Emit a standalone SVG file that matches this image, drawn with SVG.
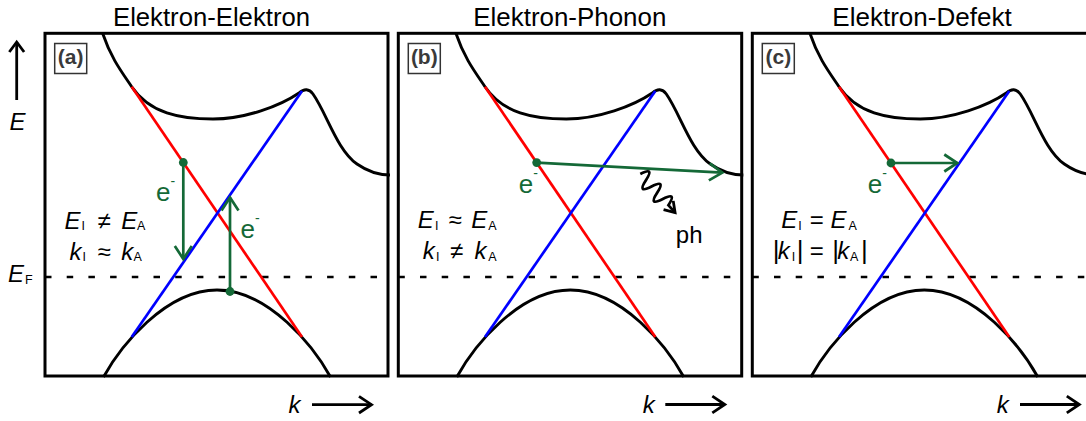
<svg xmlns="http://www.w3.org/2000/svg" xmlns:xlink="http://www.w3.org/1999/xlink" width="1086" height="421" viewBox="0 0 1086 421">
<style>
text{font-family:"Liberation Sans",Arial,sans-serif;fill:#000}
.box{fill:none;stroke:#000;stroke-width:3}
.band{fill:none;stroke:#000;stroke-width:2.9}
.red{fill:none;stroke:#f00;stroke-width:2.7}
.blue{fill:none;stroke:#00f;stroke-width:2.7}
.ef{fill:none;stroke:#000;stroke-width:2.7;stroke-dasharray:6.5 15.2}
.g{fill:none;stroke:#146937;stroke-width:2.7}
.dot{fill:#146937}
.title{font-size:25px}
.it{font-style:italic}
.f{font-size:24px}
.sub{font-size:12.5px;font-style:normal}
.bar{font-size:26px}
.lblbox{fill:#fff;stroke:#333;stroke-width:1.5}
.lbl{font-size:21px;font-weight:bold;fill:#3a3a3a}
.el{font-size:26px;fill:#146937}
.sup{font-size:14px}
.ax{fill:none;stroke:#000;stroke-width:2.8}
.wv{fill:none;stroke:#000;stroke-width:2.8}
</style>
<defs>
<marker id="ahB" markerUnits="userSpaceOnUse" orient="auto" overflow="visible" markerWidth="1" markerHeight="1" refX="0" refY="0"><path d="M-10,-7.4 L0,0 L-10,7.4" fill="none" stroke="#000" stroke-width="2.8"/></marker>
<marker id="ahK" markerUnits="userSpaceOnUse" orient="auto" overflow="visible" markerWidth="1" markerHeight="1" refX="0" refY="0"><path d="M-12.5,-8.3 L0,0 L-12.5,8.3" fill="none" stroke="#000" stroke-width="2.8"/></marker>
<marker id="ahG" markerUnits="userSpaceOnUse" orient="auto" overflow="visible" markerWidth="1" markerHeight="1" refX="0" refY="0"><path d="M-13,-8.5 L0,0 L-13,8.5" fill="none" stroke="#146937" stroke-width="2.7"/></marker>
<marker id="ahW" markerUnits="userSpaceOnUse" orient="auto" overflow="visible" markerWidth="1" markerHeight="1" refX="0" refY="0"><path d="M-10,-6.5 L0,0 L-10,6.5" fill="none" stroke="#000" stroke-width="2.8"/></marker>
<g id="bandset">
<line class="ef" x1="0" y1="277" x2="343" y2="277"/>
<path class="band" d="M57.5,33 C66,58 76,71 86.7,86.7 C105,113.5 135,119 168,119 C200,119 235,106 254,93 Q262,86 268,94 C282,114 292,150 312,164 C322,171 332,175 345,175"/>
<path class="band" d="M58.5,377 C75,347 120,290 172,290 C224,290 269,347 285.5,377"/>
<line class="red" x1="86.7" y1="86.7" x2="257" y2="337"/>
<line class="blue" x1="257" y1="91" x2="86.7" y2="337"/>
</g>
</defs>

<g id="axis-E">
<line class="ax" x1="16.7" y1="100" x2="16.7" y2="42" marker-end="url(#ahB)"/>
<text class="f it" x="9.5" y="129.5">E</text>
<text class="f it" x="8" y="282">E<tspan class="sub" x="25" y="284">F</tspan></text>
</g>

<g id="panel-a" transform="translate(45,0)">
<text class="title" x="68" y="26" textLength="197" lengthAdjust="spacingAndGlyphs">Elektron-Elektron</text>
<use xlink:href="#bandset" href="#bandset"/>
<g id="transitions-a">
<line class="g" x1="138.3" y1="162.5" x2="138.3" y2="259" marker-end="url(#ahG)"/>
<line class="g" x1="185" y1="291.5" x2="185" y2="197.5" marker-end="url(#ahG)"/>
<circle class="dot" cx="138.3" cy="162.5" r="4.4"/>
<circle class="dot" cx="185" cy="291.5" r="4.4"/>
</g>
<text class="el" x="111" y="201">e<tspan class="sup" dy="-15">-</tspan></text>
<text class="el" x="195.5" y="238">e<tspan class="sup" dy="-15">-</tspan></text>
<rect class="box" x="0" y="33.3" width="343" height="342.7"/>
<rect class="lblbox" x="9.7" y="43.5" width="32" height="30"/>
<text class="lbl" x="25.7" y="64" text-anchor="middle">(a)</text>
<text class="f"><tspan class="it" x="19.5" y="228.5">E</tspan><tspan class="sub" x="36.5" y="230">I</tspan><tspan x="59.2" y="228.5" text-anchor="middle">≠</tspan><tspan class="it" x="76.2" y="228.5">E</tspan><tspan class="sub" x="92" y="230">A</tspan></text>
<text class="f"><tspan class="it" x="24.5" y="259.5">k</tspan><tspan class="sub" x="37.5" y="261">I</tspan><tspan x="59.2" y="259.5" text-anchor="middle">≈</tspan><tspan class="it" x="76.2" y="259.5">k</tspan><tspan class="sub" x="88.5" y="261">A</tspan></text>
<text class="f it" x="243.5" y="413">k</text>
<line class="ax" x1="267" y1="404.7" x2="326.5" y2="404.7" marker-end="url(#ahK)"/>
</g>

<g id="panel-b" transform="translate(398.3,0)">
<text class="title" x="75" y="26" textLength="193" lengthAdjust="spacingAndGlyphs">Elektron-Phonon</text>
<use xlink:href="#bandset" href="#bandset"/>
<g id="transition-b">
<line class="g" x1="138.4" y1="162.6" x2="324" y2="172.6" marker-end="url(#ahG)"/>
<circle class="dot" cx="138.4" cy="162.6" r="4.4"/>
<path class="wv" transform="translate(242,174) rotate(48)" d="M0,0 q4.2,-16 8.4,0 t8.4,0 t8.4,0 t8.4,0 t8.4,0 l10,0" marker-end="url(#ahW)"/>
</g>
<text class="el" x="120.5" y="193.3">e<tspan class="sup" dy="-15">-</tspan></text>
<text class="f" x="277.5" y="242.7">ph</text>
<rect class="box" x="0" y="33.3" width="343.4" height="342.7"/>
<rect class="lblbox" x="10" y="43.5" width="32" height="30"/>
<text class="lbl" x="26" y="64" text-anchor="middle">(b)</text>
<text class="f"><tspan class="it" x="19.5" y="228">E</tspan><tspan class="sub" x="36.7" y="229.5">I</tspan><tspan x="56.9" y="228" text-anchor="middle">≈</tspan><tspan class="it" x="73" y="228">E</tspan><tspan class="sub" x="90" y="229.5">A</tspan></text>
<text class="f"><tspan class="it" x="24.5" y="259">k</tspan><tspan class="sub" x="37.7" y="260.5">I</tspan><tspan x="58.4" y="259" text-anchor="middle">≠</tspan><tspan class="it" x="76.2" y="259">k</tspan><tspan class="sub" x="90" y="260.5">A</tspan></text>
<text class="f it" x="244.5" y="413">k</text>
<line class="ax" x1="267" y1="404.5" x2="326.5" y2="404.5" marker-end="url(#ahK)"/>
</g>

<g id="panel-c" transform="translate(752.3,0)">
<text class="title" x="80" y="26" textLength="179.4" lengthAdjust="spacingAndGlyphs">Elektron-Defekt</text>
<use xlink:href="#bandset" href="#bandset"/>
<g id="transition-c">
<line class="g" x1="138.7" y1="163" x2="205" y2="163" marker-end="url(#ahG)"/>
<circle class="dot" cx="138.7" cy="163" r="4.4"/>
</g>
<text class="el" x="115.5" y="193">e<tspan class="sup" dy="-15">-</tspan></text>
<rect class="box" x="0" y="33.3" width="343.4" height="342.7"/>
<rect class="lblbox" x="10" y="43.5" width="32" height="30"/>
<text class="lbl" x="26" y="64" text-anchor="middle">(c)</text>
<text class="f"><tspan class="it" x="29" y="228">E</tspan><tspan class="sub" x="46" y="229.5">I</tspan><tspan x="64.4" y="228" text-anchor="middle">=</tspan><tspan class="it" x="78.2" y="228">E</tspan><tspan class="sub" x="96.2" y="229.5">A</tspan></text>
<text class="f"><tspan class="bar" x="20.5" y="259">|</tspan><tspan class="it" x="25.5" y="259">k</tspan><tspan class="sub" x="39.4" y="260.5">I</tspan><tspan class="bar" x="44.4" y="259">|</tspan><tspan x="64.4" y="259" text-anchor="middle">=</tspan><tspan class="bar" x="80" y="259">|</tspan><tspan class="it" x="85" y="259">k</tspan><tspan class="sub" x="97.7" y="260.5">A</tspan><tspan class="bar" x="108.7" y="259">|</tspan></text>
<text class="f it" x="244.5" y="413">k</text>
<line class="ax" x1="267.7" y1="404.5" x2="327" y2="404.5" marker-end="url(#ahK)"/>
</g>
</svg>
